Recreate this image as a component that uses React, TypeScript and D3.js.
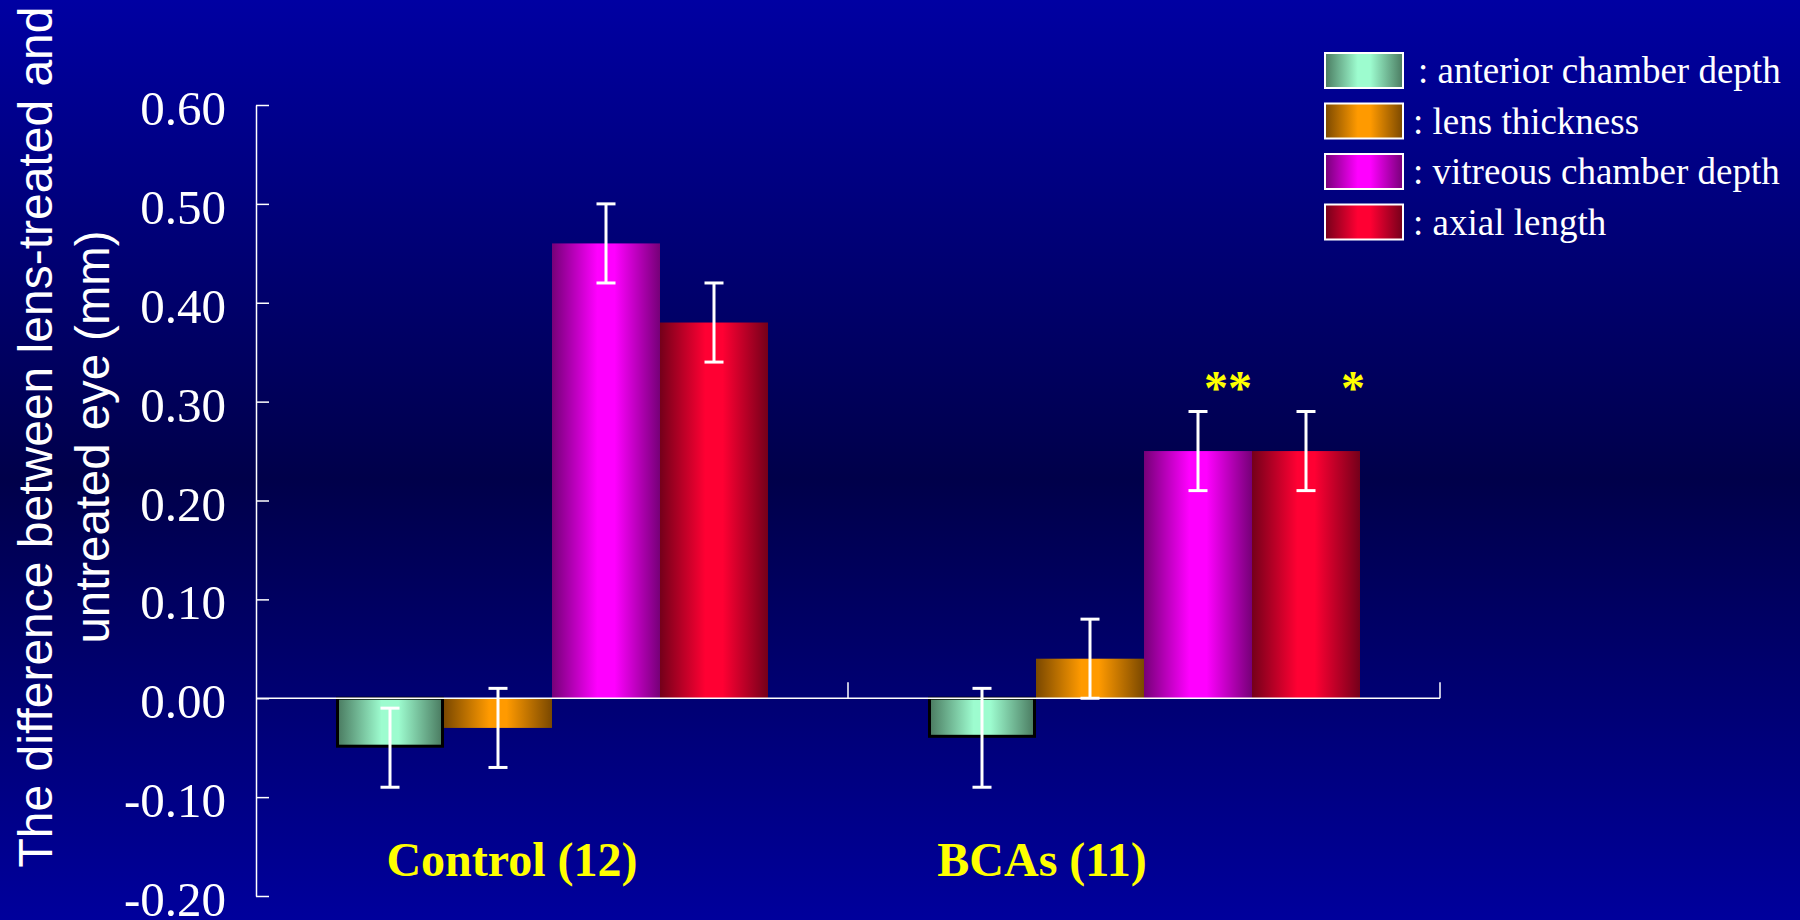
import React, { useEffect, useRef } from "react";
import * as d3 from "d3";

const categories = ["Control (12)", "BCAs (11)"];
const seriesNames = [
  "anterior chamber depth",
  "lens thickness",
  "vitreous chamber depth",
  "axial length",
];
const acdValues = [-0.05, -0.04];
const acdErrors = [0.04, 0.05];
const ltValues = [-0.03, 0.04];
const ltErrors = [0.04, 0.04];
const vcdValues = [0.46, 0.25];
const vcdErrors = [0.04, 0.04];
const alValues = [0.38, 0.25];
const alErrors = [0.04, 0.04];
const vcdStars = ["", "**"];
const alStars = ["", "*"];
const yTicks = [-0.2, -0.1, 0.0, 0.1, 0.2, 0.3, 0.4, 0.5, 0.6];
const yTitleLines = ["The difference between lens-treated and", "untreated eye (mm)"];

const seriesValues = [acdValues, ltValues, vcdValues, alValues];
const seriesErrors = [acdErrors, ltErrors, vcdErrors, alErrors];
const seriesStars = [["", ""], ["", ""], vcdStars, alStars];

const gradients = [
  { id: "gAcd", edge: "#4a7a60", mid: "#9dfccf" },
  { id: "gLt", edge: "#7a4800", mid: "#ff9a00" },
  { id: "gVcd", edge: "#760078", mid: "#ff00ff" },
  { id: "gAl", edge: "#74001a", mid: "#ff0033" },
];
const barStroke = ["#000000", "none", "none", "none"];
const starDx = [0, 0, 30, 47];
const catLabelDx = [-40, -102];

const W = 1800;
const H = 920;
const plotLeft = 256;
const plotRight = 1440;
const plotTop = 105;
const plotBottom = 896;
const groupWidth = 432;

const serif = "Liberation Serif";
const sans = "Liberation Sans";

export default function App() {
  const yAxisRef = useRef<SVGGElement>(null);

  const y = d3.scaleLinear().domain([-0.2, 0.6]).range([plotBottom, plotTop]);
  const x0 = d3.scaleBand<string>().domain(categories).range([plotLeft, plotRight]);
  const x1 = d3.scaleBand<string>().domain(seriesNames).range([0, groupWidth]);
  const groupStart = (c: string) => (x0(c) as number) + (x0.bandwidth() - groupWidth) / 2;
  const y0 = y(0);
  const fmtLocale = d3.formatLocale({ decimal: ".", thousands: ",", grouping: [3], currency: ["", ""], minus: "-" });
  const fmt = fmtLocale.format(".2f");

  useEffect(() => {
    if (!yAxisRef.current) return;
    const g = d3.select(yAxisRef.current);
    g.selectAll("*").remove();
    g.call(
      d3
        .axisLeft(y)
        .tickValues(yTicks)
        .tickSizeInner(-13)
        .tickSizeOuter(0)
        .tickFormat(() => "")
    );
    g.select(".domain").attr("stroke", "#ffffff").attr("stroke-width", 1.5);
    g.selectAll(".tick line").attr("stroke", "#ffffff").attr("stroke-width", 1.5);
    g.selectAll(".tick text").remove();
  }, []);

  const xTickPositions = [
    ...categories.slice(1).map((c) => x0(c) as number),
    (x0(categories[categories.length - 1]) as number) + x0.bandwidth(),
  ];

  return (
    <svg
      width={W}
      height={H}
      style={{ position: "absolute", left: 0, top: 0, display: "block" }}
    >
      <defs>
        <linearGradient id="bg" x1="0" y1="0" x2="0" y2="1">
          <stop offset="0" stopColor="#0000a2" />
          <stop offset="0.52" stopColor="#00004a" />
          <stop offset="1" stopColor="#00009c" />
        </linearGradient>
        {gradients.map((g) => (
          <linearGradient key={g.id} id={g.id} x1="0" y1="0" x2="1" y2="0">
            <stop offset="0" stopColor={g.edge} />
            <stop offset="0.42" stopColor={g.mid} />
            <stop offset="0.58" stopColor={g.mid} />
            <stop offset="1" stopColor={g.edge} />
          </linearGradient>
        ))}
      </defs>
      <rect x={0} y={0} width={W} height={H} fill="url(#bg)" />

      {/* y axis title */}
      {yTitleLines.map((line, i) => (
        <text
          key={i}
          transform={`translate(${52 + i * 57}, ${437}) rotate(-90)`}
          textAnchor="middle"
          fill="#ffffff"
          fontFamily={sans}
          fontSize={48}
          textLength={i === 0 ? 861 : 413}
          lengthAdjust="spacingAndGlyphs"
        >
          {line}
        </text>
      ))}

      {/* bars */}
      {categories.map((c, ci) => (
        <g key={c}>
          {seriesNames.map((s, si) => {
            const v = seriesValues[si][ci];
            const bx = groupStart(c) + (x1(s) as number);
            const bw = x1.bandwidth();
            const top = Math.min(y(v), y0);
            const h = Math.abs(y(v) - y0);
            const sw = barStroke[si] === "none" ? 0 : 3;
            return (
              <rect
                key={s}
                x={bx + sw / 2}
                y={top + (v < 0 ? 0 : sw / 2)}
                width={bw - sw}
                height={h - sw / 2}
                fill={`url(#${gradients[si].id})`}
                stroke={barStroke[si]}
                strokeWidth={sw}
              />
            );
          })}
        </g>
      ))}

      {/* zero line and x ticks */}
      <line x1={plotLeft} x2={plotRight} y1={y0} y2={y0} stroke="#ffffff" strokeWidth={1.5} />
      {xTickPositions.map((xp, i) => (
        <line key={i} x1={xp} x2={xp} y1={y0} y2={y0 - 16} stroke="#ffffff" strokeWidth={1.5} />
      ))}

      {/* error bars */}
      {categories.map((c, ci) => (
        <g key={c + "err"}>
          {seriesNames.map((s, si) => {
            const v = seriesValues[si][ci];
            const e = seriesErrors[si][ci];
            const cx = groupStart(c) + (x1(s) as number) + x1.bandwidth() / 2;
            const capW = 19;
            return (
              <g key={s} stroke="#ffffff" strokeWidth={3}>
                <line x1={cx} x2={cx} y1={y(v + e)} y2={y(v - e)} />
                <line x1={cx - capW / 2} x2={cx + capW / 2} y1={y(v + e)} y2={y(v + e)} />
                <line x1={cx - capW / 2} x2={cx + capW / 2} y1={y(v - e)} y2={y(v - e)} />
              </g>
            );
          })}
        </g>
      ))}

      {/* significance stars */}
      {categories.map((c, ci) =>
        seriesNames.map((s, si) => {
          const star = seriesStars[si][ci];
          if (!star) return null;
          const v = seriesValues[si][ci];
          const e = seriesErrors[si][ci];
          const cx = groupStart(c) + (x1(s) as number) + x1.bandwidth() / 2 + starDx[si];
          return (
            <text
              key={c + s + "star"}
              x={cx}
              y={y(v + e) - 8}
              textAnchor="middle"
              fill="#ffff00"
              fontFamily={serif}
              fontWeight="bold"
              fontSize={48}
            >
              {star}
            </text>
          );
        })
      )}

      {/* y axis */}
      <g ref={yAxisRef} transform={`translate(${plotLeft},0)`} />
      {yTicks.map((t) => (
        <text
          key={"yt" + t}
          x={plotLeft - 30}
          y={y(t) + 20}
          textAnchor="end"
          fill="#ffffff"
          fontFamily={serif}
          fontSize={49}
        >
          {fmt(t)}
        </text>
      ))}

      {/* category labels */}
      {categories.map((c, ci) => (
        <text
          key={c + "lbl"}
          x={(x0(c) as number) + x0.bandwidth() / 2 + catLabelDx[ci]}
          y={876}
          textAnchor="middle"
          fill="#ffff00"
          fontFamily={serif}
          fontWeight="bold"
          fontSize={48}
        >
          {c}
        </text>
      ))}

      {/* legend */}
      {seriesNames.map((s, si) => {
        const ly = 53 + si * 50.5;
        return (
          <g key={s + "leg"}>
            <rect
              x={1325}
              y={ly}
              width={78}
              height={35}
              fill={`url(#${gradients[si].id})`}
              stroke="#ffffff"
              strokeWidth={2}
            />
            <text
              x={si === 0 ? 1418 : 1413}
              y={ly + 30}
              fill="#ffffff"
              fontFamily={serif}
              fontSize={37}
            >
              {": " + s}
            </text>
          </g>
        );
      })}
    </svg>
  );
}
